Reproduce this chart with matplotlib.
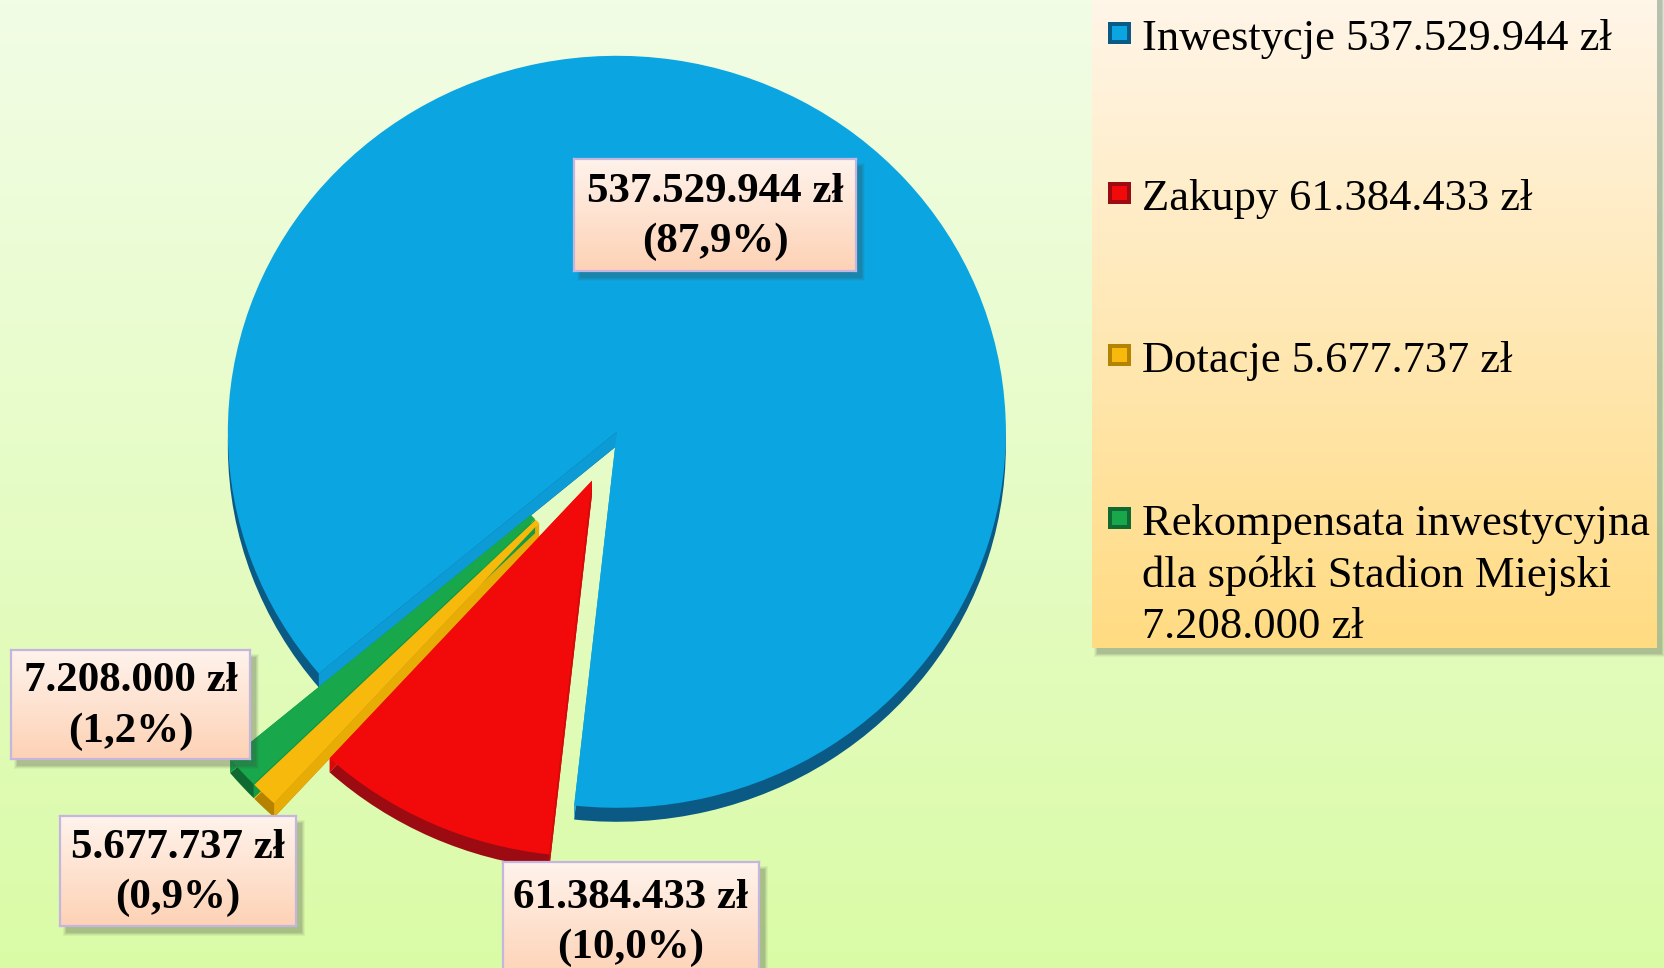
import numpy as np
import matplotlib
matplotlib.use("Agg")
import matplotlib.pyplot as plt
from matplotlib.patches import Rectangle, Polygon
from matplotlib.colors import to_rgb

# ---------------- data ----------------
categories = ["Inwestycje", "Zakupy", "Dotacje",
              "Rekompensata inwestycyjna\ndla spółki Stadion Miejski"]
values = [537529944, 61384433, 5677737, 7208000]
colors = ["#0ba6e1", "#f20a0a", "#f6b90c", "#18a74b"]
side_colors = ["#0c9bd4", "#dc0808", "#e8ac06", "#149a44"]
rim_colors = ["#0a5a85", "#9c0b12", "#b58300", "#0e6a31"]
explode = [0.07, 0.075, 0.036, 0.036]
# perspective: the thin front slices look longer and their inner part is hidden
radii = [1.0, 1.0, 1.22, 1.22]
inner = [0.0, 0.0, 0.21, 0.21]

total = sum(values)


def fmt_zl(v):
    return f"{v:,}".replace(",", ".") + " zł"


def fmt_pct(v):
    return f"({100 * v / total:.1f}%)".replace(".", ",")


W, H = 1665, 968
fig = plt.figure(figsize=(W / 100, H / 100), dpi=100)
SERIF = ["Liberation Serif", "DejaVu Serif"]


def fx(px):
    return px / W


def fy(py):
    return 1 - py / H


def gradient_axes(x0, y0, x1, y1, top, bot, z, edge=None, lw=0.0):
    a = fig.add_axes([fx(x0), fy(y1), (x1 - x0) / W, (y1 - y0) / H], zorder=z)
    g = np.linspace(0, 1, 256)[:, None, None]
    ct = np.array(to_rgb(top))[None, None, :]
    cb = np.array(to_rgb(bot))[None, None, :]
    a.imshow(ct * (1 - g) + cb * g, aspect="auto", extent=[0, 1, 0, 1], origin="upper")
    a.set_xticks([])
    a.set_yticks([])
    for s in a.spines.values():
        if edge is None:
            s.set_visible(False)
        else:
            s.set_color(edge)
            s.set_linewidth(lw)
    return a


def shadow(x0, y0, x1, y1, z, dx=6, dy=7):
    for k, al in [(3, 0.06), (2, 0.08), (1, 0.10), (0, 0.12)]:
        fig.add_artist(Rectangle((fx(x0 + dx - k), fy(y1 + dy + k)),
                                 (x1 - x0 + 2 * k) / W, (y1 - y0 + 2 * k) / H,
                                 facecolor="#404040", edgecolor="none", alpha=al, zorder=z))


# ---------------- background ----------------
gradient_axes(0, 0, W, H, "#f2fde6", "#dafba6", -5)

# ---------------- pie (pseudo 3D) ----------------
ax = fig.add_axes([0, 0, 1, 1], zorder=0)
cx_px, cy_px = 604, 455
sx, sy = 389, 376
depth = 14 / sy
rim_wedges, _ = ax.pie(values, explode=explode, colors=rim_colors, startangle=220,
                       counterclock=False, center=(0, -depth), radius=1,
                       wedgeprops=dict(linewidth=0, zorder=1))
top_wedges, _ = ax.pie(values, explode=explode, colors=colors, startangle=220,
                       counterclock=False, center=(0, 0), radius=1,
                       wedgeprops=dict(linewidth=0, zorder=3))
for group in (rim_wedges, top_wedges):
    for w, r, rin in zip(group, radii, inner):
        w.set_radius(r)
        if rin > 0:
            w.set_width(r - rin)

# cut faces of each slice, derived from the wedge geometry
for w, sc, rin in zip(top_wedges, side_colors, inner):
    cx, cy = w.center
    for th in (w.theta1, w.theta2):
        c, s = np.cos(np.radians(th)), np.sin(np.radians(th))
        ix, iy = cx + rin * c, cy + rin * s
        ex, ey = cx + w.r * c, cy + w.r * s
        ax.add_patch(Polygon([(ix, iy), (ex, ey), (ex, ey - depth), (ix, iy - depth)],
                             closed=True, facecolor=sc, edgecolor="none", zorder=2))
ax.set_aspect("auto")
ax.set_xlim(-cx_px / sx, (W - cx_px) / sx)
ax.set_ylim(-(H - cy_px) / sy, cy_px / sy)
ax.axis("off")

# ---------------- data labels ----------------
label_boxes = [(574, 159, 856, 271), (503, 862, 759, 980),
               (60, 816, 296, 926), (11, 650, 250, 759)]
for i, (x0, y0, x1, y1) in enumerate(label_boxes):
    shadow(x0, y0, x1, y1, 2)
    gradient_axes(x0, y0, x1, y1, "#fff3ec", "#fdd2b5", 3, edge="#c6b5df", lw=1.6)
    fig.text(fx((x0 + x1) / 2), fy((y0 + y1) / 2 + 2),
             fmt_zl(values[i]) + "\n" + fmt_pct(values[i]),
             ha="center", va="center", multialignment="center",
             fontsize=31, fontweight="bold", family=SERIF, linespacing=1.4,
             color="black", zorder=5)

# ---------------- legend ----------------
lx0, ly0, lx1, ly1 = 1092, -10, 1657, 648
shadow(lx0, ly0, lx1, ly1, 1, dx=5, dy=6)
gradient_axes(lx0, ly0, lx1, ly1, "#fff6ea", "#ffdb82", 1.5)
baselines = [49, 209, 371, 534]
fs_leg = 32
asc = 0.683 * fs_leg * 100 / 72
for i, name in enumerate(categories):
    b = baselines[i]
    mx0, mx1 = 1108, 1131
    mc = b - 16
    fig.add_artist(Rectangle((fx(mx0), fy(mc + 11)), (mx1 - mx0) / W, 22 / H,
                             facecolor=rim_colors[i], edgecolor="none", zorder=5))
    fig.add_artist(Rectangle((fx(mx0 + 4), fy(mc + 7)), (mx1 - mx0 - 8) / W, 14 / H,
                             facecolor=colors[i], edgecolor="none", zorder=6))
    fig.text(fx(1142), fy(b - asc), name + " " + fmt_zl(values[i]) if i < 3
             else name + "\n" + fmt_zl(values[i]),
             ha="left", va="top", fontsize=fs_leg, family=SERIF,
             linespacing=1.37, color="black", zorder=5)

fig.savefig("out.png", dpi=100)
